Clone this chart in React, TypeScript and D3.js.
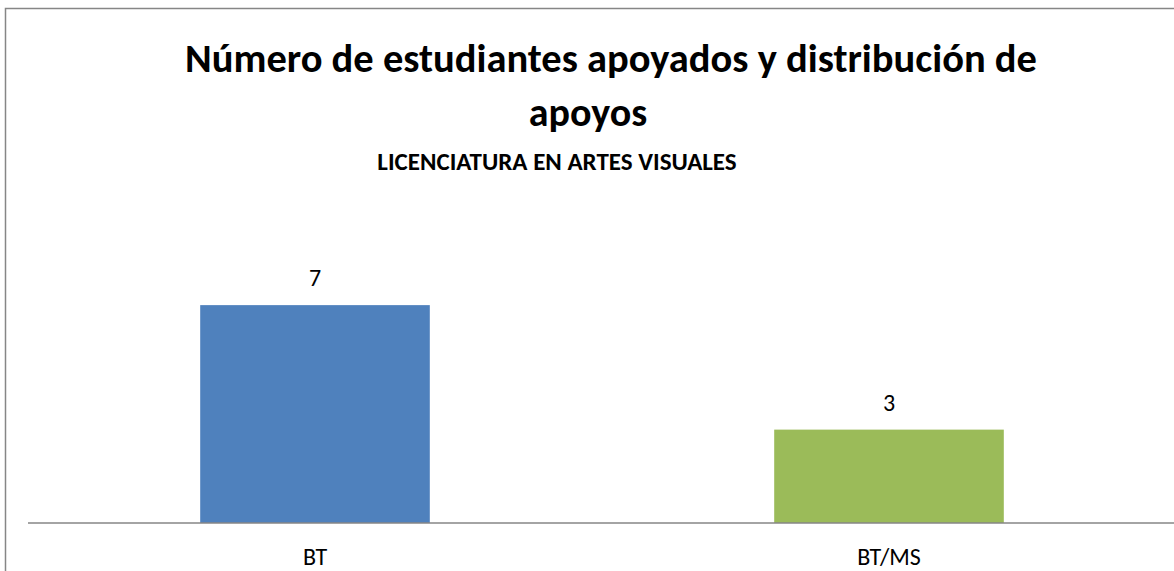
import React from "react";
import * as d3 from "d3";

const categories = ["BT", "BT/MS"];
const values = [7, 3];
const barColors = ["#4F81BD", "#9BBB59"];
const titleLines = ["Número de estudiantes apoyados y distribución de", "apoyos"];
const subtitle = "LICENCIATURA EN ARTES VISUALES";
const yDomainMax = 8;

const W = 1174;
const H = 571;
const FONT = "Carlito, Lato, 'Open Sans', sans-serif";

export default function App() {
  const plotLeft = 28;
  const plotRight = 1176;
  const axisY = 523;
  const x = d3
    .scaleBand<string>()
    .domain(categories)
    .range([plotLeft, plotRight])
    .paddingInner(0.6)
    .paddingOuter(0.3);
  const y = d3.scaleLinear().domain([0, yDomainMax]).range([axisY, axisY - 249]);

  return (
    <div style={{ position: "absolute", left: 0, top: 0 }}>
      <svg width={W} height={H} style={{ display: "block", background: "#fff" }}>
        <rect x={5.5} y={8.5} width={1190} height={600} fill="#fff" stroke="#868686" strokeWidth={1.5} />
        <g fontFamily={FONT} fill="#000" textAnchor="middle">
          <text x={611} y={72} fontSize={40.5} fontWeight="bold">{titleLines[0]}</text>
          <text x={588} y={126} fontSize={40} fontWeight="bold">{titleLines[1]}</text>
          <text x={557} y={170} fontSize={25} fontWeight="bold">{subtitle}</text>
        </g>
        {categories.map((c, i) => (
          <rect
            key={c}
            x={x(c)}
            y={y(values[i])}
            width={x.bandwidth()}
            height={y(0) - y(values[i])}
            fill={barColors[i]}
          />
        ))}
        <line x1={plotLeft} x2={plotRight} y1={axisY} y2={axisY} stroke="#868686" strokeWidth={1.5} />
        <g fontFamily={FONT} fill="#000" textAnchor="middle" fontSize={24}>
          {categories.map((c, i) => (
            <text key={"v" + c} x={(x(c) as number) + x.bandwidth() / 2} y={y(values[i]) - 19}>
              {values[i]}
            </text>
          ))}
          {categories.map((c) => (
            <text key={"c" + c} x={(x(c) as number) + x.bandwidth() / 2} y={565}>
              {c}
            </text>
          ))}
        </g>
      </svg>
    </div>
  );
}
